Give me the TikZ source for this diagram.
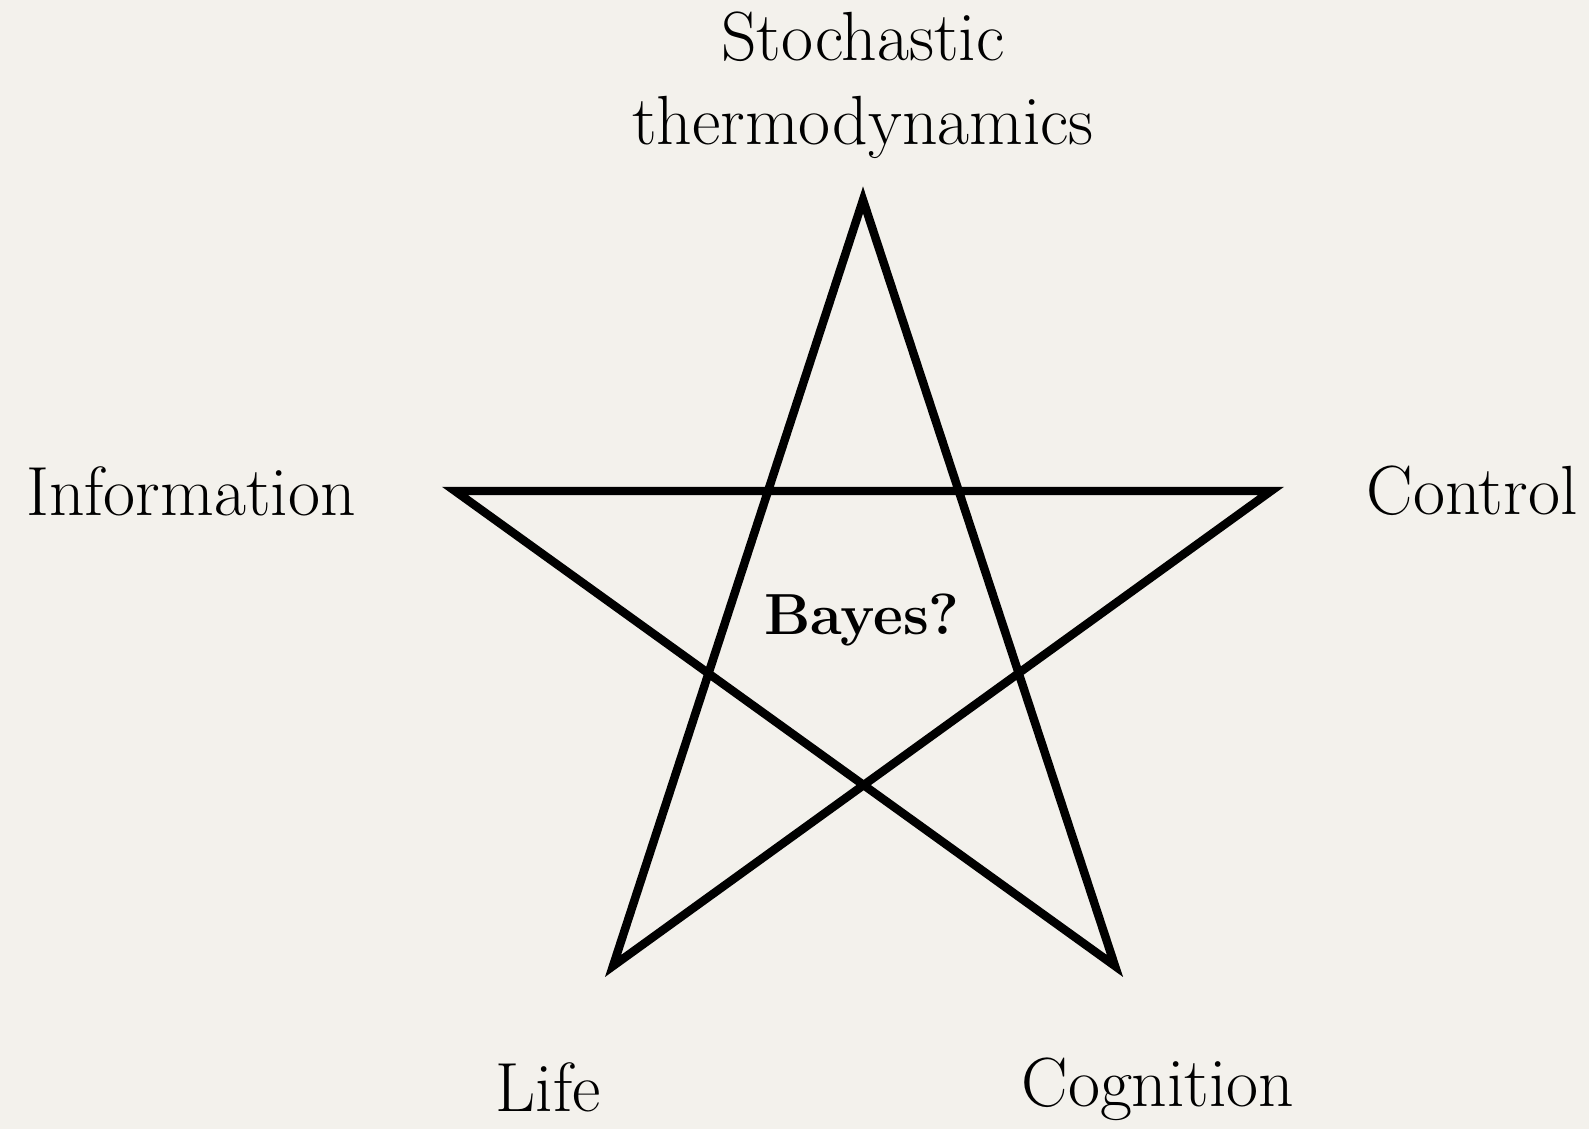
\documentclass[tikz,border=0pt]{standalone}
\usepackage{xcolor}
\usepackage{tikz}
\usetikzlibrary{positioning, calc}
\definecolor{paper}{HTML}{F3F1EC}

\begin{document}
\begin{tikzpicture}[
    font=\fontsize{19.8}{24}\selectfont,
    label/.style={inner sep=0pt, align=center, anchor=center},
    star/.style={draw, line width=2.4pt, line join=miter, miter limit=20},
]
\fill[paper] (0,0) rectangle (15.89,11.29);
\useasboundingbox (0,0) rectangle (15.89,11.29);
%% Star points
\coordinate (top)   at (8.63, 9.29);
\coordinate (left)  at (4.55, 6.38);
\coordinate (right) at (12.71, 6.38);
\coordinate (bl)    at (6.13, 1.63);
\coordinate (br)    at (11.15, 1.63);
\draw[star] (top) -- (bl) -- (right) -- (left) -- (br) -- cycle;
%% Labels
\node[label] (stoch) at (8.63, 10.44) {Stochastic\\thermodynamics};
\node[label] (info)  at (1.91, 6.38)  {Information};
\node[label] (ctrl)  at (14.72, 6.38) {Control};
\node[label, font=\fontsize{16.5}{20}\selectfont\bfseries] (bayes) at (8.62, 5.09) {Bayes?};
\node[label] (life)  at (5.48, 0.42)  {Life};
\node[label] (cog)   at (11.58, 0.40) {Cognition};
\end{tikzpicture}
\end{document}
